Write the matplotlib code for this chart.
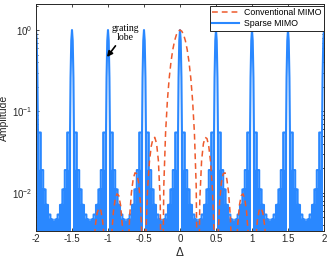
import numpy as np
import matplotlib.pyplot as plt

# -----------------------------------
# Style
# -----------------------------------
plt.rcParams["font.family"] = ["Liberation Sans", "DejaVu Sans"]
plt.rcParams["axes.unicode_minus"] = False

BLUE = "#2A88FF"
RED = "#EE5A2C"
AXIS = "#262626"

# -----------------------------------
# Data
# -----------------------------------
grating_centers = [-2.0, -1.5, -1.0, -0.5, 0.0, 0.5, 1.0, 1.5, 2.0]

# half of one grating lobe, offset from its centre
lobe_offset = [0.0, 0.01, 0.02, 0.027, 0.0333]
lobe_amp = [1.0, 0.74, 0.26, 0.055, 1e-4]

# sparse MIMO sidelobe peaks between two neighbouring grating lobes
sparse_sidelobes = [0.055, 0.019, 0.011, 0.0071, 0.0054, 0.0047, 0.0043,
                    0.0047, 0.0054, 0.0071, 0.011, 0.019, 0.055]

# conventional MIMO, positive half (pattern is symmetric)
conv_delta = [0.0, 0.025, 0.05, 0.075, 0.1, 0.125, 0.15, 0.175, 0.2, 0.225,
              0.25, 0.275, 0.3, 0.325, 0.35, 0.375, 0.4, 0.425, 0.45, 0.475,
              0.5, 0.525, 0.55, 0.575, 0.6, 0.625, 0.65, 0.675, 0.7, 0.725,
              0.75, 0.775, 0.8, 0.825, 0.85, 0.875, 0.9, 0.925, 0.95, 0.975,
              1.0, 1.025, 1.05, 1.075, 1.1, 1.125, 1.15, 1.175, 1.2, 1.225,
              1.25]
conv_amp = [1.0, 0.968, 0.876, 0.738, 0.574, 0.407, 0.256, 0.136, 0.0552, 0.0121,
            1e-4, 0.0081, 0.0248, 0.0401, 0.048, 0.0463, 0.037, 0.0238, 0.0113, 0.0028,
            1e-4, 0.0023, 0.0077, 0.0134, 0.0171, 0.0176, 0.0148, 0.0100, 0.0050, 0.0013,
            1e-4, 0.0011, 0.0039, 0.0070, 0.0092, 0.0097, 0.0084, 0.0058, 0.0029, 0.0008,
            1e-4, 0.0007, 0.0025, 0.0046, 0.0061, 0.0065, 0.0057, 0.0040, 0.0021, 0.0006,
            1e-4]

FLOOR = 1e-4

# -----------------------------------
# Build the sparse MIMO trace
# -----------------------------------
period = grating_centers[1] - grating_centers[0]
slot = period / (len(sparse_sidelobes) + 2)

sparse_x, sparse_y = [], []
for c in grating_centers[:-1]:
    for o, a in zip(lobe_offset, lobe_amp):
        sparse_x.append(c + o)
        sparse_y.append(a)
    for k, a in enumerate(sparse_sidelobes, start=1):
        x0 = c + k * slot
        x1 = x0 + slot
        sparse_x += [x0, x0, x1, x1]
        sparse_y += [FLOOR, a, a, FLOOR]
    for o, a in zip(lobe_offset[::-1], lobe_amp[::-1]):
        sparse_x.append(c + period - o)
        sparse_y.append(a)

conv_x = np.concatenate([-np.array(conv_delta[::-1]), np.array(conv_delta[1:])])
conv_y = np.concatenate([np.array(conv_amp[::-1]), np.array(conv_amp[1:])])

# -----------------------------------
# Plot
# -----------------------------------
fig = plt.figure(figsize=(3.32, 2.63), dpi=100)
ax = fig.add_axes([0.1084, 0.1217, 0.8675, 0.8631])

ax.plot(conv_x, conv_y, color=RED, lw=1.1, linestyle=(0, (3.8, 2.6)),
        label="Conventional MIMO", zorder=3)
ax.plot(sparse_x, sparse_y, color=BLUE, lw=1.5,
        label="Sparse MIMO", zorder=2)

ax.set_yscale("log")
ax.set_xlim(-2, 2)
ax.set_ylim(10 ** -2.47, 10 ** 0.32)
ax.set_xticks(grating_centers)
ax.set_xticklabels(["-2", "-1.5", "-1", "-0.5", "0", "0.5", "1", "1.5", "2"])

ax.tick_params(which="both", direction="in", top=True, right=True,
               colors=AXIS, labelsize=7, width=0.6)
ax.tick_params(which="major", length=2.5, pad=2.5)
ax.tick_params(which="minor", length=1.5)
for s in ax.spines.values():
    s.set_color(AXIS)
    s.set_linewidth(0.7)

ax.set_ylabel("Amplitude", fontsize=7.5, color=AXIS)
ax.yaxis.set_label_coords(-0.094, 0.5)
ax.set_xlabel("Δ", fontsize=8.5, color=AXIS, labelpad=2)

ax.annotate("grating\nlobe", xy=(-1.014, 0.466), xytext=(-0.76, 0.92),
            ha="center", va="center", fontsize=7, family="Liberation Serif",
            linespacing=1.0,
            arrowprops=dict(arrowstyle="-|>", color="k", lw=1.2,
                            mutation_scale=8, shrinkA=1, shrinkB=0))

leg = ax.legend(loc="upper right", bbox_to_anchor=(1.0, 0.993), fontsize=6.3,
                handlelength=3.0, borderaxespad=0.0, borderpad=0.3,
                labelspacing=0.2, handletextpad=0.6, fancybox=False,
                framealpha=1)
leg.get_frame().set_edgecolor(AXIS)
leg.get_frame().set_linewidth(0.7)

fig.savefig("out.png", dpi=100)
